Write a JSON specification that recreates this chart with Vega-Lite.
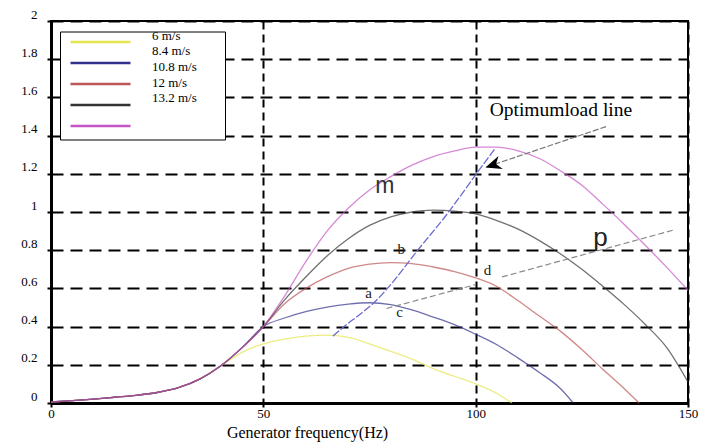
{
  "$schema": "https://vega.github.io/schema/vega-lite/v6.json",
  "width": 637,
  "height": 382,
  "autosize": {"type": "none"},
  "padding": {"left": 51, "top": 21, "right": 22, "bottom": 39},
  "background": "white",
  "config": {
    "view": {"stroke": "black", "strokeWidth": 2},
    "font": "Liberation Serif",
    "axisX": {
      "grid": true, "gridDash": [8, 5], "gridColor": "black", "gridWidth": 2, "gridOpacity": 1,
      "domainColor": "black", "domainWidth": 3,
      "tickColor": "black", "tickSize": 4, "tickWidth": 2,
      "labelFont": "Liberation Serif", "labelFontSize": 13, "labelColor": "black",
      "labelPadding": 0, "labelFlush": false, "labelOverlap": false,
      "titleFont": "Liberation Serif", "titleFontSize": 16, "titleFontWeight": "normal", "titleColor": "black",
      "titleX": 256, "titleY": 29, "titleBaseline": "middle", "titleAlign": "center"
    },
    "axisY": {
      "grid": true, "gridDash": [12, 7], "gridColor": "black", "gridWidth": 2, "gridOpacity": 1,
      "domainColor": "black", "domainWidth": 3,
      "tickColor": "black", "tickSize": 4, "tickWidth": 2,
      "labelFont": "Liberation Serif", "labelFontSize": 13, "labelColor": "black",
      "labelPadding": 10, "labelBaseline": "bottom", "labelOverlap": false
    },
    "legend": {
      "labelFont": "Liberation Serif", "labelFontSize": 13, "labelColor": "black", "labelBaseline": "middle"
    }
  },
  "datasets": {
    "curves": [
      {"s":"6 m/s","f":0,"p":0.005},{"s":"6 m/s","f":5,"p":0.012},{"s":"6 m/s","f":10,"p":0.02},{"s":"6 m/s","f":15,"p":0.03},{"s":"6 m/s","f":20,"p":0.04},{"s":"6 m/s","f":25,"p":0.055},{"s":"6 m/s","f":30,"p":0.08},{"s":"6 m/s","f":35,"p":0.125},{"s":"6 m/s","f":40,"p":0.195},
      {"s":"6 m/s","f":45,"p":0.265},{"s":"6 m/s","f":50,"p":0.31},{"s":"6 m/s","f":55,"p":0.335},{"s":"6 m/s","f":60,"p":0.35},{"s":"6 m/s","f":65,"p":0.355},{"s":"6 m/s","f":70,"p":0.343},{"s":"6 m/s","f":75,"p":0.31},{"s":"6 m/s","f":80,"p":0.27},{"s":"6 m/s","f":85,"p":0.23},{"s":"6 m/s","f":90,"p":0.18},{"s":"6 m/s","f":95,"p":0.14},{"s":"6 m/s","f":100,"p":0.1},{"s":"6 m/s","f":105,"p":0.05},{"s":"6 m/s","f":108.5,"p":0},
      {"s":"8.4 m/s","f":0,"p":0.005},{"s":"8.4 m/s","f":5,"p":0.012},{"s":"8.4 m/s","f":10,"p":0.02},{"s":"8.4 m/s","f":15,"p":0.03},{"s":"8.4 m/s","f":20,"p":0.04},{"s":"8.4 m/s","f":25,"p":0.055},{"s":"8.4 m/s","f":30,"p":0.08},{"s":"8.4 m/s","f":35,"p":0.125},{"s":"8.4 m/s","f":40,"p":0.195},{"s":"8.4 m/s","f":45,"p":0.29},{"s":"8.4 m/s","f":50,"p":0.4},
      {"s":"8.4 m/s","f":55,"p":0.445},{"s":"8.4 m/s","f":60,"p":0.478},{"s":"8.4 m/s","f":65,"p":0.502},{"s":"8.4 m/s","f":70,"p":0.518},{"s":"8.4 m/s","f":75,"p":0.525},{"s":"8.4 m/s","f":80,"p":0.515},{"s":"8.4 m/s","f":85,"p":0.487},{"s":"8.4 m/s","f":90,"p":0.45},{"s":"8.4 m/s","f":95,"p":0.41},{"s":"8.4 m/s","f":100,"p":0.36},{"s":"8.4 m/s","f":105,"p":0.305},{"s":"8.4 m/s","f":110,"p":0.235},{"s":"8.4 m/s","f":115,"p":0.16},{"s":"8.4 m/s","f":120,"p":0.075},{"s":"8.4 m/s","f":123,"p":0},
      {"s":"10.8 m/s","f":0,"p":0.005},{"s":"10.8 m/s","f":5,"p":0.012},{"s":"10.8 m/s","f":10,"p":0.02},{"s":"10.8 m/s","f":15,"p":0.03},{"s":"10.8 m/s","f":20,"p":0.04},{"s":"10.8 m/s","f":25,"p":0.055},{"s":"10.8 m/s","f":30,"p":0.08},{"s":"10.8 m/s","f":35,"p":0.125},{"s":"10.8 m/s","f":40,"p":0.195},{"s":"10.8 m/s","f":45,"p":0.29},{"s":"10.8 m/s","f":50,"p":0.4},
      {"s":"10.8 m/s","f":55,"p":0.52},{"s":"10.8 m/s","f":60,"p":0.6},{"s":"10.8 m/s","f":65,"p":0.66},{"s":"10.8 m/s","f":70,"p":0.705},{"s":"10.8 m/s","f":75,"p":0.727},{"s":"10.8 m/s","f":80,"p":0.735},{"s":"10.8 m/s","f":85,"p":0.73},{"s":"10.8 m/s","f":90,"p":0.712},{"s":"10.8 m/s","f":95,"p":0.688},{"s":"10.8 m/s","f":100,"p":0.655},{"s":"10.8 m/s","f":105,"p":0.61},{"s":"10.8 m/s","f":110,"p":0.535},{"s":"10.8 m/s","f":115,"p":0.455},{"s":"10.8 m/s","f":120,"p":0.375},{"s":"10.8 m/s","f":125,"p":0.28},{"s":"10.8 m/s","f":130,"p":0.175},{"s":"10.8 m/s","f":135,"p":0.075},{"s":"10.8 m/s","f":138.5,"p":0},
      {"s":"12 m/s","f":0,"p":0.005},{"s":"12 m/s","f":5,"p":0.012},{"s":"12 m/s","f":10,"p":0.02},{"s":"12 m/s","f":15,"p":0.03},{"s":"12 m/s","f":20,"p":0.04},{"s":"12 m/s","f":25,"p":0.055},{"s":"12 m/s","f":30,"p":0.08},{"s":"12 m/s","f":35,"p":0.125},{"s":"12 m/s","f":40,"p":0.195},{"s":"12 m/s","f":45,"p":0.29},{"s":"12 m/s","f":50,"p":0.4},
      {"s":"12 m/s","f":55,"p":0.54},{"s":"12 m/s","f":60,"p":0.66},{"s":"12 m/s","f":65,"p":0.77},{"s":"12 m/s","f":70,"p":0.86},{"s":"12 m/s","f":75,"p":0.93},{"s":"12 m/s","f":80,"p":0.975},{"s":"12 m/s","f":85,"p":1.0},{"s":"12 m/s","f":90,"p":1.01},{"s":"12 m/s","f":95,"p":1.005},{"s":"12 m/s","f":100,"p":0.99},{"s":"12 m/s","f":105,"p":0.955},{"s":"12 m/s","f":110,"p":0.91},{"s":"12 m/s","f":115,"p":0.85},{"s":"12 m/s","f":120,"p":0.78},{"s":"12 m/s","f":125,"p":0.7},{"s":"12 m/s","f":130,"p":0.61},{"s":"12 m/s","f":135,"p":0.515},{"s":"12 m/s","f":140,"p":0.41},{"s":"12 m/s","f":145,"p":0.29},{"s":"12 m/s","f":150,"p":0.11},
      {"s":"13.2 m/s","f":0,"p":0.005},{"s":"13.2 m/s","f":5,"p":0.012},{"s":"13.2 m/s","f":10,"p":0.02},{"s":"13.2 m/s","f":15,"p":0.03},{"s":"13.2 m/s","f":20,"p":0.04},{"s":"13.2 m/s","f":25,"p":0.055},{"s":"13.2 m/s","f":30,"p":0.08},{"s":"13.2 m/s","f":35,"p":0.125},{"s":"13.2 m/s","f":40,"p":0.195},{"s":"13.2 m/s","f":45,"p":0.29},{"s":"13.2 m/s","f":50,"p":0.4},
      {"s":"13.2 m/s","f":55,"p":0.56},{"s":"13.2 m/s","f":60,"p":0.74},{"s":"13.2 m/s","f":65,"p":0.9},{"s":"13.2 m/s","f":70,"p":1.02},{"s":"13.2 m/s","f":75,"p":1.115},{"s":"13.2 m/s","f":80,"p":1.185},{"s":"13.2 m/s","f":85,"p":1.245},{"s":"13.2 m/s","f":90,"p":1.29},{"s":"13.2 m/s","f":95,"p":1.32},{"s":"13.2 m/s","f":100,"p":1.34},{"s":"13.2 m/s","f":105,"p":1.34},{"s":"13.2 m/s","f":110,"p":1.32},{"s":"13.2 m/s","f":115,"p":1.28},{"s":"13.2 m/s","f":120,"p":1.215},{"s":"13.2 m/s","f":125,"p":1.14},{"s":"13.2 m/s","f":130,"p":1.04},{"s":"13.2 m/s","f":135,"p":0.935},{"s":"13.2 m/s","f":140,"p":0.825},{"s":"13.2 m/s","f":145,"p":0.71},{"s":"13.2 m/s","f":150,"p":0.59}
    ],
    "load": [
      {"f":66.4,"p":0.35},{"f":69,"p":0.4},{"f":72.5,"p":0.46},{"f":75.8,"p":0.52},{"f":80,"p":0.62},{"f":86,"p":0.79},{"f":93.3,"p":0.99},{"f":100.5,"p":1.21},{"f":104.5,"p":1.33}
    ],
    "guides": [
      {"g":"cd","f":79,"p":0.495},{"g":"cd","f":100,"p":0.62},
      {"g":"dp","f":106.2,"p":0.66},{"g":"dp","f":146.5,"p":0.905}
    ],
    "arrow": [
      {"f":130.7,"p":1.447},{"f":102.6,"p":1.236}
    ],
    "head": [{"f":102.3,"p":1.233}],
    "caption": [{"t":"Optimumload line","f":103.3,"p":1.534}],
    "small": [
      {"t":"a","f":74.8,"p":0.55},{"t":"b","f":82.5,"p":0.78},{"t":"c","f":82.1,"p":0.45},{"t":"d","f":102.8,"p":0.67}
    ],
    "bigm": [{"t":"m","f":78.6,"p":1.099}],
    "bigp": [{"t":"p","f":129.4,"p":0.822}]
  },
  "encoding": {
    "x": {"field": "f", "type": "quantitative", "scale": {"domain": [0, 150], "nice": false, "zero": false}, "title": "Generator frequency(Hz)", "axis": {"values": [0, 50, 100, 150]}},
    "y": {"field": "p", "type": "quantitative", "scale": {"domain": [0, 2], "nice": false}, "title": null, "axis": {"values": [0, 0.2, 0.4, 0.6, 0.8, 1, 1.2, 1.4, 1.6, 1.8, 2], "format": "~g"}}
  },
  "layer": [
    {
      "data": {"name": "curves"},
      "mark": {"type": "line", "strokeWidth": 1.3, "interpolate": "monotone"},
      "encoding": {
        "color": {
          "field": "s", "type": "nominal",
          "scale": {"domain": ["6 m/s", "8.4 m/s", "10.8 m/s", "12 m/s", "13.2 m/s"], "range": ["#e4e44e", "#32328c", "#bc5555", "#333333", "#c455c4"]},
          "legend": {
            "title": null,
            "orient": "none", "legendX": 9, "legendY": 10.5,
            "symbolType": "M0,0H10M0,-0.8333M0,0.8333M24.3,0", "symbolSize": 144, "symbolStrokeWidth": 2.5, "symbolOpacity": 1,
            "labelExpr": "''",
            "rowPadding": 0, "padding": 3,
            "strokeColor": "black", "fillColor": "white"
          }
        },
        "opacity": {
          "field": "s", "type": "nominal",
          "scale": {"domain": ["6 m/s", "8.4 m/s", "10.8 m/s", "12 m/s", "13.2 m/s"], "range": [0.7, 0.7, 0.7, 0.7, 0.7]},
          "legend": {
            "title": null,
            "orient": "top-left", "offset": 8,
            "symbolType": "circle", "symbolSize": 0, "symbolStrokeWidth": 0, "symbolOpacity": 0,
            "labelOffset": 80,
            "rowPadding": 1.7, "padding": 0,
            "zindex": 1
          }
        }
      }
    },
    {
      "data": {"name": "load"},
      "mark": {"type": "line", "stroke": "#6b6bd0", "strokeWidth": 1.3, "strokeDash": [8, 2], "interpolate": "monotone"},
      "encoding": {}
    },
    {
      "data": {"name": "guides"},
      "mark": {"type": "line", "stroke": "#8a8a8a", "strokeWidth": 1.2, "strokeDash": [6, 3]},
      "encoding": {"detail": {"field": "g", "type": "nominal"}}
    },
    {
      "data": {"name": "arrow"},
      "mark": {"type": "line", "stroke": "#777777", "strokeWidth": 1.2, "strokeDash": [6, 2]},
      "encoding": {}
    },
    {
      "data": {"name": "head"},
      "mark": {"type": "point", "shape": "M0,0L2,-0.85L1.4,0L2,0.85Z", "filled": true, "color": "black", "opacity": 1, "size": 256, "angle": 341.6},
      "encoding": {}
    },
    {
      "data": {"name": "caption"},
      "mark": {"type": "text", "font": "Liberation Serif", "fontSize": 19.5, "align": "left", "baseline": "middle", "color": "black"},
      "encoding": {"text": {"field": "t"}}
    },
    {
      "data": {"name": "small"},
      "mark": {"type": "text", "font": "Liberation Serif", "fontSize": 15, "align": "center", "baseline": "alphabetic", "color": "#222222"},
      "encoding": {"text": {"field": "t"}}
    },
    {
      "data": {"name": "bigm"},
      "mark": {"type": "text", "font": "Liberation Sans", "fontSize": 23, "align": "center", "baseline": "alphabetic", "color": "#333333"},
      "encoding": {"text": {"field": "t"}}
    },
    {
      "data": {"name": "bigp"},
      "mark": {"type": "text", "font": "Liberation Sans", "fontSize": 26, "align": "center", "baseline": "alphabetic", "color": "#222222"},
      "encoding": {"text": {"field": "t"}}
    }
  ]
}
